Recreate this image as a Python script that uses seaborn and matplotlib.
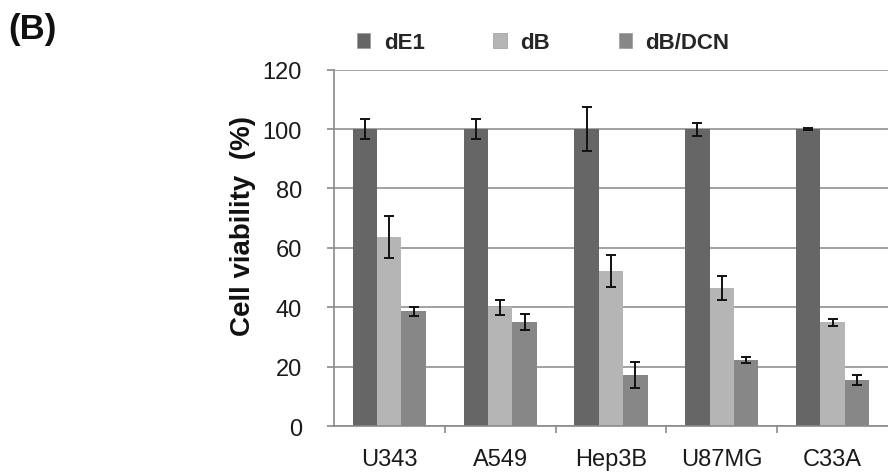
import matplotlib

matplotlib.use("Agg")
import matplotlib.pyplot as plt
import pandas as pd
import seaborn as sns
from matplotlib.patches import Patch

# ---- data ------------------------------------------------------------------
cells = ["U343", "A549", "Hep3B", "U87MG", "C33A"]
viruses = ["dE1", "dB", "dB/DCN"]
de1 = [100, 100, 100, 100, 100]
de1_err = [3.5, 3.3, 7.5, 2.2, 0.3]
db = [63.6, 40.0, 52.2, 46.5, 35.0]
db_err = [7.0, 2.5, 5.3, 4.0, 1.2]
dbdcn = [38.7, 35.0, 17.2, 22.2, 15.5]
dbdcn_err = [1.5, 2.7, 4.3, 1.0, 1.8]
colors = ["#666666", "#b5b5b5", "#878787"]

values = [de1, db, dbdcn]
errors = [de1_err, db_err, dbdcn_err]
df = pd.DataFrame(
    [(c, v, val) for v, vals in zip(viruses, values) for c, val in zip(cells, vals)],
    columns=["cell", "virus", "viability"],
)

sns.set_theme(style="white")
plt.rcParams["font.family"] = ["Liberation Sans", "DejaVu Sans"]

fig = plt.figure(figsize=(8.88, 4.77), dpi=100)
ax = fig.add_axes([0.376, 0.1048, 0.624, 0.747])

sns.barplot(data=df, x="cell", y="viability", hue="virus", order=cells,
            hue_order=viruses, palette=colors, width=0.66, saturation=1,
            errorbar=None, linewidth=0, legend=False, ax=ax)

for cont, err in zip(ax.containers, errors):
    xs = [p.get_x() + p.get_width() / 2 for p in cont]
    ys = [p.get_height() for p in cont]
    ax.errorbar(xs, ys, yerr=err, fmt="none", ecolor="#111111",
                elinewidth=1.4, capsize=3.6, capthick=1.4, zorder=5)

ax.set_ylim(0, 120)
ax.set_xlim(-0.5, 4.5)
ax.set_yticks(range(0, 121, 20))
ax.yaxis.grid(True, color="#9a9a9a", linewidth=1.3)
ax.set_axisbelow(True)
for s in ["top", "right"]:
    ax.spines[s].set_visible(False)
for s in ["left", "bottom"]:
    ax.spines[s].set_color("#8a8a8a")
    ax.spines[s].set_linewidth(1.2)

ax.tick_params(axis="y", left=True, length=5, width=1.2, color="#8a8a8a",
               pad=18, labelsize=17, labelcolor="#1a1a1a")
ax.tick_params(axis="x", bottom=False, length=0, pad=16, labelsize=17,
               labelcolor="#1a1a1a")
ax.set_xticks([0.5, 1.5, 2.5, 3.5], minor=True)
ax.tick_params(axis="x", which="minor", bottom=True, length=5, width=1.2,
               color="#8a8a8a")

ax.set_xlabel("")
ax.set_ylabel("Cell viability  (%)", fontsize=20, fontweight="bold",
              color="#111111")
ax.yaxis.set_label_coords(-0.14, 0.563)

handles = [Patch(facecolor=c, edgecolor="#9a9a9a", linewidth=0.5) for c in colors]
fig.legend(handles, viruses, loc="center left", bbox_to_anchor=(0.402, 0.908),
           ncol=3, frameon=False, borderpad=0, borderaxespad=0,
           handlelength=0.6, handleheight=0.6, handletextpad=0.6,
           columnspacing=3.1, prop={"size": 16, "weight": "bold"})

fig.text(0.009, 0.939, "(B)", fontsize=25, fontweight="bold", va="center",
         ha="left", color="#111111")

fig.savefig("out.png", dpi=100)
